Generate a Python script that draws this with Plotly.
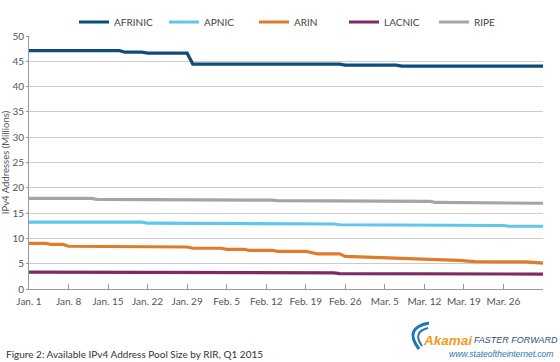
import datetime as dt
import plotly.graph_objects as go

START = dt.date(2015, 1, 1)

def d(n):
    return (START + dt.timedelta(days=n)).isoformat()

# Day offsets from Jan 1 2015 and pool size (millions) at each change point
afrinic_days = [0, 16, 17, 20, 21, 28, 29, 55, 56, 65, 66, 91]
afrinic_vals = [47.1, 47.1, 46.8, 46.8, 46.6, 46.6, 44.45, 44.45, 44.25, 44.25, 44.05, 44.05]

apnic_days = [0, 20, 21, 34, 35, 54, 55, 70, 71, 84, 85, 91]
apnic_vals = [13.2, 13.2, 13.0, 13.0, 12.85, 12.85, 12.7, 12.7, 12.55, 12.55, 12.4, 12.4]

arin_days = [0, 3, 4, 6, 7, 15, 16, 28, 29, 34, 35, 38, 39, 43, 44, 49, 51, 55, 56, 60, 64, 70, 76, 79, 88, 91]
arin_vals = [9.0, 9.0, 8.8, 8.8, 8.45, 8.45, 8.3, 8.3, 8.05, 8.05, 7.85, 7.85, 7.65, 7.65, 7.45, 7.45, 6.95, 6.95, 6.45, 6.3, 6.0, 5.8, 5.65, 5.4, 5.35, 5.1]

lacnic_days = [0, 8, 9, 54, 55, 79, 80, 91]
lacnic_vals = [3.35, 3.35, 3.2, 3.2, 3.05, 3.05, 2.95, 2.95]

ripe_days = [0, 11, 12, 27, 28, 43, 44, 56, 57, 71, 72, 79, 80, 91]
ripe_vals = [17.9, 17.9, 17.7, 17.7, 17.55, 17.55, 17.45, 17.45, 17.3, 17.3, 17.1, 17.1, 16.95, 16.95]

series_names = ["AFRINIC", "APNIC", "ARIN", "LACNIC", "RIPE"]
series_days = [afrinic_days, apnic_days, arin_days, lacnic_days, ripe_days]
series_vals = [afrinic_vals, apnic_vals, arin_vals, lacnic_vals, ripe_vals]
colors = ["#0d4d7a", "#62c6e6", "#e07c29", "#7c2b63", "#a5a5a5"]

tick_days = list(range(0, 92, 7))
tick_labels = ["Jan. 1", "Jan. 8", "Jan. 15", "Jan. 22", "Jan. 29", "Feb. 5", "Feb. 12",
               "Feb. 19", "Feb. 26", "Mar. 5", "Mar. 12", "Mar. 19", "Mar. 26", ""]

FONT = "Lato"

fig = go.Figure()
for name, days, vals, col in zip(series_names, series_days, series_vals, colors):
    fig.add_trace(go.Scatter(
        x=[d(n) for n in days], y=vals, name=name, mode="lines",
        line=dict(color=col, width=3.2),
    ))

# pixel -> paper helpers (plot area: x 29..543, y 36..289)
L, R, T, B = 29, 543, 36, 289
def px(x):
    return (x - L) / (R - L)
def py(y):
    return (B - y) / (B - T)

annotations = [
    dict(text="Figure 2: Available IPv4 Address Pool Size by RIR, Q1 2015",
         xref="paper", yref="paper", x=px(4), y=py(354), xanchor="left", yanchor="middle",
         showarrow=False, font=dict(family=FONT, size=10, color="#333333")),
    dict(text="<b><i>Akamai</i></b>",
         xref="paper", yref="paper", x=px(421), y=py(340), xanchor="left", yanchor="middle",
         showarrow=False, font=dict(family="Liberation Sans", size=13.5, color="#f39a1e")),
    dict(text="<i>FASTER FORWARD</i>",
         xref="paper", yref="paper", x=px(472), y=py(340), xanchor="left", yanchor="middle",
         showarrow=False, font=dict(family="Liberation Sans", size=9, color="#2f4f6f")),
    dict(text="<i>www.stateoftheinternet.com</i>",
         xref="paper", yref="paper", x=px(555), y=py(354), xanchor="right", yanchor="middle",
         showarrow=False, font=dict(family="Liberation Sans", size=8.5, color="#1f78b4")),
]

def path(points):
    s = "M %f,%f" % (px(points[0][0]), py(points[0][1]))
    s += " Q %f,%f %f,%f" % (px(points[1][0]), py(points[1][1]), px(points[2][0]), py(points[2][1]))
    return s

shapes = [
    dict(type="path", xref="paper", yref="paper",
         path=path([(429, 323), (403, 328), (419, 349)]),
         line=dict(color="#1f78b4", width=3)),
    dict(type="path", xref="paper", yref="paper",
         path=path([(428, 328), (412, 332), (422, 346)]),
         line=dict(color="#1f78b4", width=2)),
]

fig.update_layout(
    width=560, height=362,
    margin=dict(l=L, r=560 - R, t=T, b=362 - B, autoexpand=False),
    paper_bgcolor="white", plot_bgcolor="white",
    font=dict(family=FONT, size=10, color="#555555"),
    showlegend=True,
    legend=dict(orientation="h", x=px(74), xanchor="left",
                yref="container", y=1 - 22 / 362, yanchor="middle",
                font=dict(family=FONT, size=10, color="#444444"),
                itemwidth=30, entrywidth=45, tracegroupgap=0, bgcolor="rgba(0,0,0,0)"),
    annotations=annotations,
    shapes=shapes,
)

fig.update_xaxes(
    type="date", range=[d(0), d(91)], automargin=False,
    tickmode="array", tickvals=[d(n) for n in tick_days], ticktext=tick_labels,
    ticks="inside", ticklen=5, tickcolor="#999999", tickwidth=1,
    ticklabelstandoff=3,
    showgrid=False, showline=True, linecolor="#999999", linewidth=1,
    tickfont=dict(family=FONT, size=10, color="#555555"),
    zeroline=False,
)
fig.update_yaxes(
    range=[0, 50], tickmode="array", tickvals=list(range(0, 51, 5)), automargin=False,
    showgrid=True, gridcolor="#cccccc", gridwidth=1,
    showline=True, linecolor="#999999", linewidth=1,
    ticks="outside", ticklen=2, tickcolor="#999999",
    zeroline=False,
    tickfont=dict(family=FONT, size=10, color="#555555"),
    title=dict(text="IPv4 Addresses (Millions)", standoff=2,
               font=dict(family=FONT, size=9.5, color="#555555")),
)

fig.write_html("out.html", config={"displayModeBar": False},
               post_script="document.body.style.margin='0';")
